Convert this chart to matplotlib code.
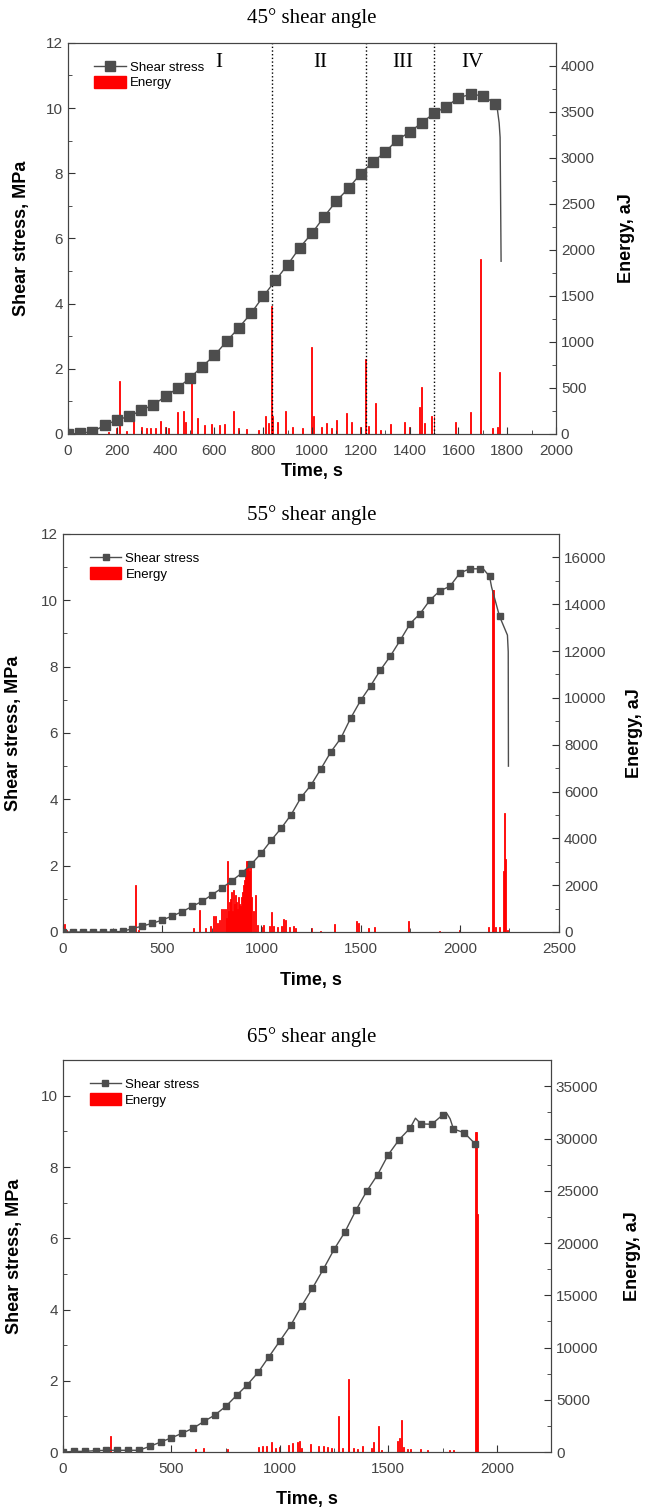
import matplotlib.pyplot as plt
from matplotlib.lines import Line2D
from matplotlib.patches import Patch
from matplotlib.ticker import MultipleLocator

plt.rcParams['font.family'] = ['Liberation Sans', 'DejaVu Sans']

# ---- 45 deg ----
t45 = [0, 50, 100, 150, 200, 250, 300, 350, 400, 450, 500, 550, 600, 650, 700, 750,
       800, 850, 900, 950, 1000, 1050, 1100, 1150, 1200, 1250, 1300, 1350, 1400,
       1450, 1500, 1550, 1600, 1650, 1700, 1750, 1760, 1767, 1771, 1775]
s45 = [0.0, 0.02, 0.07, 0.26, 0.43, 0.54, 0.72, 0.9, 1.15, 1.41, 1.72, 2.07, 2.41,
       2.84, 3.26, 3.7, 4.22, 4.71, 5.19, 5.72, 6.16, 6.67, 7.15, 7.54, 7.99, 8.35,
       8.65, 9.03, 9.26, 9.55, 9.84, 10.04, 10.32, 10.42, 10.38, 10.14, 9.95, 9.55,
       9.1, 5.3]
et45 = [165, 200, 210, 240, 270, 300, 320, 340, 360, 380, 400, 410, 450, 475, 480,
        505, 530, 560, 590, 620, 640, 680, 700, 730, 780, 810, 820, 835, 840, 860,
        890, 920, 960, 1000, 1005, 1040, 1060, 1080, 1100, 1140, 1160, 1200, 1220,
        1230, 1260, 1280, 1320, 1380, 1400, 1440, 1450, 1460, 1490, 1500, 1590,
        1650, 1690, 1740, 1760, 1770]
e45 = [20, 60, 580, 30, 245, 80, 60, 60, 60, 140, 80, 70, 240, 250, 130,
       590, 175, 100, 110, 100, 110, 250, 70, 50, 40, 200, 120, 1390, 200, 130,
       250, 80, 60, 940, 190, 80, 120, 60, 150, 225, 130, 80, 810,
       90, 335, 40, 110, 130, 80, 290, 510, 120, 190, 200, 135,
       240, 1900, 70, 80, 670]
stage_x = [838, 1223, 1500]
stage_lbl = ['I', 'II', 'III', 'IV']
stage_pos = [616, 1035, 1372, 1656]

# ---- 55 deg ----
t55 = [0, 50, 100, 150, 200, 250, 300, 350, 400, 450, 500, 550, 600, 650, 700, 750,
       800, 850, 900, 950, 1000, 1050, 1100, 1150, 1200, 1250, 1300, 1350, 1400,
       1450, 1500, 1550, 1600, 1650, 1700, 1750, 1800, 1850, 1900, 1950, 2000,
       2050, 2100, 2115, 2150, 2160, 2200, 2240, 2244, 2245]
s55 = [0, 0, 0, 0, 0, 0, 0.02, 0.1, 0.18, 0.26, 0.36, 0.48, 0.61, 0.77, 0.92, 1.12,
       1.32, 1.54, 1.77, 2.05, 2.38, 2.77, 3.13, 3.54, 4.06, 4.43, 4.92, 5.43, 5.84,
       6.45, 6.98, 7.42, 7.9, 8.32, 8.8, 9.3, 9.6, 10.01, 10.29, 10.42, 10.82,
       10.95, 10.95, 10.97, 10.72, 10.4, 9.52, 8.95, 8.45, 5.0]
et55 = [5, 20, 365, 380, 660, 690, 720, 745, 760, 770, 780, 790, 800, 810, 820, 825,
        830, 835, 840, 845, 850, 855, 860, 865, 870, 875, 880, 885, 890, 895, 900,
        905, 910, 915, 920, 925, 930, 935, 940, 945, 950, 960, 970, 980, 1000,
        1010, 1040, 1050, 1060, 1080, 1100, 1110, 1120, 1140, 1160, 1170, 1250,
        1300, 1370, 1480, 1490, 1540, 1570, 1740, 1900, 2000, 2145, 2165, 2170,
        2180, 2200, 2220, 2225, 2230, 2240]
e55 = [350, 80, 2000, 80, 150, 920, 150, 250, 700, 700, 400, 500, 1000, 1000, 1000, 600,
       3050, 900, 1300, 1400, 1700, 900, 1800, 1200, 1600, 1300, 1000, 1500, 1200, 1100, 1500,
       1700, 2000, 2200, 2700, 3050, 3050, 3050, 2600, 3050, 1500, 900, 1600, 300, 200,
       300, 250, 860, 250, 200, 250, 570, 500, 200, 250, 150, 150,
       50, 360, 460, 400, 150, 200, 470, 50, 80, 200, 14600, 14600,
       200, 200, 2600, 5100, 3100, 100]

# ---- 65 deg ----
t65 = [0, 50, 100, 150, 200, 250, 300, 350, 400, 450, 500, 550, 600, 650, 700, 750,
       800, 850, 900, 950, 1000, 1050, 1100, 1150, 1200, 1250, 1300, 1350, 1400,
       1450, 1500, 1550, 1600, 1625, 1650, 1700, 1750, 1770, 1785, 1800, 1850, 1900]
s65 = [0.0, 0.02, 0.02, 0.04, 0.05, 0.05, 0.05, 0.05, 0.16, 0.28, 0.4, 0.53, 0.67,
       0.86, 1.04, 1.28, 1.59, 1.89, 2.24, 2.68, 3.12, 3.56, 4.1, 4.6, 5.13, 5.69,
       6.18, 6.78, 7.32, 7.78, 8.35, 8.77, 9.09, 9.37, 9.21, 9.2, 9.46, 9.5, 9.35,
       9.07, 8.96, 8.65]
et65 = [220, 610, 650, 760, 900, 920, 940, 960, 980, 1000, 1040, 1060, 1080, 1090,
        1100, 1140, 1180, 1200, 1220, 1240, 1270, 1290, 1315, 1318, 1340, 1360,
        1380, 1420, 1430, 1455, 1470, 1540, 1550, 1560, 1570, 1590, 1600, 1650,
        1680, 1780, 1800, 1902, 1906, 1910]
e65 = [1500, 300, 400, 300, 500, 600, 600, 920, 400, 500, 700, 900, 1000, 1020,
       400, 800, 600, 600, 500, 400, 3470, 400, 6970, 3980, 400, 300,
       600, 400, 920, 2450, 200, 1100, 1300, 3090, 500, 300, 300, 300,
       200, 200, 200, 30600, 30600, 22800]

panels = [
    dict(t=t45, s=s45, et=et45, e=e45, title='45° shear angle',
         rect=[0.1054, 0.7128, 0.7566, 0.2588], xlim=2000, xmaj=200, xmin=100,
         ylim=12, elim=4250, emaj=500, emin=250, bw=4, ms=6.5,
         lbl=(-0.078, 1.127, -0.075)),
    dict(t=t55, s=s55, et=et55, e=e55, title='55° shear angle',
         rect=[0.0977, 0.3832, 0.769, 0.2634], xlim=2500, xmaj=500, xmin=250,
         ylim=12, elim=17000, emaj=2000, emin=1000, bw=5, ms=4,
         lbl=(-0.083, 1.135, -0.10)),
    dict(t=t65, s=s65, et=et65, e=e65, title='65° shear angle',
         rect=[0.0977, 0.039, 0.7566, 0.2594], xlim=2250, xmaj=500, xmin=250,
         ylim=11, elim=37500, emaj=5000, emin=2500, bw=4.6, ms=4,
         lbl=(-0.082, 1.15, -0.10)),
]
title_y = [1 - 18 / 1511, 1 - 515 / 1511, 1 - 1037 / 1511]

fig = plt.figure(figsize=(6.45, 15.11), dpi=100)
gray = '#4d4d4d'
for p, ty in zip(panels, title_y):
    ax = fig.add_axes(p['rect'])
    ax2 = ax.twinx()
    mk = [i for i, t in enumerate(p['t']) if t % 50 == 0]
    ax.plot(p['t'], p['s'], color=gray, lw=1, marker='s', ms=p['ms'],
            markevery=mk, zorder=3)
    ax2.bar(p['et'], p['e'], width=p['bw'], color='red', edgecolor='red',
            linewidth=0.6)
    ax.set_xlim(0, p['xlim'])
    ax.set_ylim(0, p['ylim'])
    ax2.set_ylim(0, p['elim'])
    ax.xaxis.set_major_locator(MultipleLocator(p['xmaj']))
    ax.xaxis.set_minor_locator(MultipleLocator(p['xmin']))
    ax.yaxis.set_major_locator(MultipleLocator(2))
    ax.yaxis.set_minor_locator(MultipleLocator(1))
    ax2.yaxis.set_major_locator(MultipleLocator(p['emaj']))
    ax2.yaxis.set_minor_locator(MultipleLocator(p['emin']))
    for a in (ax, ax2):
        a.tick_params(which='both', direction='in', labelsize=11,
                      labelcolor='#444444', color='#333333')
        a.tick_params(which='major', length=5)
        a.tick_params(which='minor', length=3)
        for sp in a.spines.values():
            sp.set_color('#444444')
    ax.tick_params(axis='x', which='major', pad=7)
    ax.set_zorder(ax2.get_zorder() + 1)
    ax.patch.set_visible(False)
    ax.set_ylabel('Shear stress, MPa', fontsize=13, fontweight='bold')
    ax2.set_ylabel('Energy, aJ', fontsize=13, fontweight='bold')
    ax.set_xlabel('Time, s', fontsize=13, fontweight='bold')
    ax.yaxis.set_label_coords(p['lbl'][0], 0.5)
    ax2.yaxis.set_label_coords(p['lbl'][1], 0.5)
    ax.xaxis.set_label_coords(0.5, p['lbl'][2])
    fig.text(0.484, ty, p['title'], ha='center', va='center', fontsize=15,
             family='Liberation Serif')
    handles = [Line2D([], [], color=gray, lw=1, marker='s', ms=p['ms']),
               Patch(color='red')]
    ax.legend(handles, ['Shear stress', 'Energy'], loc='upper left',
              bbox_to_anchor=(0.03, 0.985), frameon=False, fontsize=9.5,
              handlelength=2.4, handleheight=1.0, handletextpad=0.3,
              labelspacing=0.15)
    p['ax'] = ax

ax1 = panels[0]['ax']
for x in stage_x:
    ax1.axvline(x, color='black', ls=':', lw=1)
for x, s in zip(stage_pos, stage_lbl):
    ax1.text(x, 11.4, s, ha='center', va='center', fontsize=15,
             family='Liberation Serif')

fig.savefig('out.png', dpi=100)
